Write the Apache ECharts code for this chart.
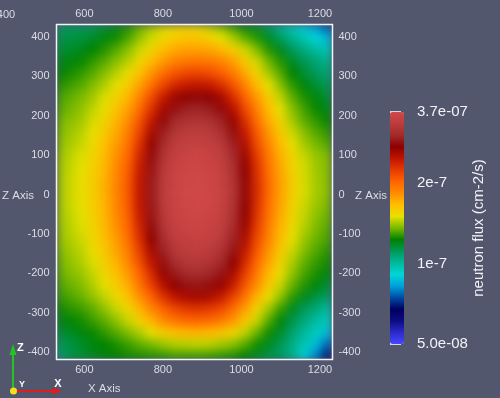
<!DOCTYPE html>
<html><head><meta charset="utf-8">
<script src="https://cdn.jsdelivr.net/npm/echarts@6/dist/echarts.min.js"></script>
<style>
html,body{margin:0;padding:0;background:#52576e;}
#wrap{position:relative;width:500px;height:398px;overflow:hidden;background:#52576e;}
#heat{position:absolute;left:57px;top:25px;width:275px;height:335px;filter:url(#smooth);}
#main{position:absolute;left:0;top:0;width:500px;height:398px;}
</style></head><body>
<svg width="0" height="0" style="position:absolute"><defs><filter id="smooth" x="0" y="0" width="1" height="1" color-interpolation-filters="sRGB"><feGaussianBlur stdDeviation="5" edgeMode="duplicate"/></filter></defs></svg>
<div id="wrap"><div id="heat"></div><div id="main"></div></div>
<script>
// ---- data (neutron flux, units of 1e-9 cm-2/s) ----
const xCenters = [530,560,590,620,650,680,710,740,770,800,830,860,890,920,950,980,1010,1040,1070,1100,1130,1160,1190,1220];
const zCenters = [430,400,370,340,310,280,250,220,190,160,130,100,70,40,10,-20,-50,-80,-110,-140,-170,-200,-230,-260,-290,-320,-350,-380,-410];
const fluxE9 = [
 [110,111,111,112,115,119,126,134,141,148,152,154,153,145,137,129,122,117,110,102,95,89,82,75],
 [113,114,115,117,121,125,131,139,147,155,161,164,163,157,150,142,133,127,118,110,103,97,91,86],
 [116,117,119,123,127,132,138,147,156,166,173,176,176,174,168,159,147,137,127,119,111,105,100,96],
 [119,121,124,128,132,138,144,155,167,179,188,193,194,192,187,176,161,147,135,127,118,112,107,103],
 [123,125,128,132,138,144,152,165,180,197,210,217,219,215,206,191,173,156,142,132,123,116,111,107],
 [126,129,132,137,143,150,160,176,196,218,236,244,247,243,231,210,187,167,150,138,128,122,116,112],
 [130,133,136,141,149,157,169,187,215,242,264,276,279,273,258,232,203,178,159,145,133,126,121,116],
 [132,135,139,145,152,163,176,199,229,260,285,296,299,293,280,250,216,188,166,150,138,130,124,120],
 [135,138,141,148,156,169,183,210,244,280,304,317,321,313,297,268,230,197,172,156,142,133,128,124],
 [137,140,144,151,161,173,190,220,258,294,323,334,337,332,314,284,243,207,180,161,147,138,132,128],
 [138,142,146,154,165,178,196,229,270,308,336,345,348,343,330,296,255,215,186,167,152,142,136,132],
 [140,144,149,156,167,182,201,237,281,321,344,355,358,353,339,307,265,224,192,171,156,146,140,137],
 [141,145,150,158,169,185,205,243,287,330,352,362,364,359,346,314,273,229,196,174,157,148,141,138],
 [141,146,151,159,170,186,208,246,291,333,355,365,368,363,350,321,277,232,198,176,159,148,142,138],
 [141,146,152,159,171,187,209,247,292,334,357,367,369,364,351,322,279,233,199,176,159,149,142,139],
 [141,146,151,159,170,186,208,246,291,333,355,365,368,363,350,321,277,232,197,175,158,147,141,137],
 [141,145,150,158,169,185,205,244,288,330,353,362,364,359,346,315,273,228,195,173,156,146,139,135],
 [140,144,149,156,168,182,202,238,282,322,346,357,359,354,341,308,266,224,191,170,154,144,137,133],
 [139,143,147,155,165,178,198,231,274,311,338,347,350,346,332,298,257,216,187,167,151,141,135,131],
 [137,141,145,152,162,175,191,223,261,298,328,338,341,335,319,288,246,209,181,162,147,138,132,128],
 [135,139,143,149,158,170,186,214,248,285,311,325,328,321,303,274,234,200,175,157,143,134,129,125],
 [133,137,140,146,155,165,179,203,234,269,292,305,308,301,287,258,222,191,168,152,139,131,126,121],
 [131,134,137,143,150,160,172,194,221,250,275,286,288,283,268,241,209,182,161,146,134,127,121,116],
 [128,131,134,139,145,154,164,182,203,228,247,258,260,255,242,219,193,169,152,139,128,119,114,109],
 [124,127,129,133,139,146,155,169,186,203,217,225,228,224,215,197,176,156,141,129,119,111,106,100],
 [120,122,125,129,133,139,146,157,170,184,194,200,201,199,191,179,162,146,132,122,113,106,100,95],
 [116,118,121,124,128,132,137,143,151,159,165,168,169,167,163,156,145,134,125,117,108,101,95,87],
 [110,114,117,121,123,126,129,133,136,140,143,144,145,144,141,138,132,125,118,112,104,97,87,77],
 [108,113,116,119,121,123,125,126,127,128,130,130,130,129,128,126,123,118,114,110,103,91,80,69]
];
const xRange = [529, 1232];
const zRange = [-419, 432];
const xTicks = [600, 800, 1000, 1200];
const zTicks = [-400, -300, -200, -100, 0, 100, 200, 300, 400];
const fluxMin = 5e-8, fluxMax = 3.7e-7;
const cbTickFlux = [5e-8, 7e-8, 8e-8, 9e-8, 1e-7, 2e-7, 3.7e-7];
const cbLabelFlux = [5e-8, 1e-7, 2e-7, 3.7e-7];
const cbLabelText = ['5.0e-08', '1e-7', '2e-7', '3.7e-07'];

// ---- styles ----
const CELL = 30;
const COLORS = ['#4646ff','#2a2ac8','#0c0c82','#00005f','#004ba5','#00a0dc','#00d7d7','#00b99b','#00985a','#008200','#78b900','#e6e100','#ffbe00','#ff8c00','#ff6400','#e63c00','#be1400','#8c0000','#a32a2a','#bc3c3c','#d24848'];
const FONT = '"Liberation Sans", Arial, sans-serif';
const TICKC = '#dcdce4';
const TEXTC = '#f2f2f6';

const LMIN = Math.log10(fluxMin), LMAX = Math.log10(fluxMax);
const heatData = [];
zCenters.forEach((z, i) => xCenters.forEach((x, j) => {
  const f = fluxE9[i][j] * 1e-9;
  heatData.push([x, z, f, Math.log10(f)]);
}));

function renderCell(params, api) {
  const x = api.value(0), z = api.value(1);
  const a = api.coord([x - CELL / 2, z + CELL / 2]);
  const b = api.coord([x + CELL / 2, z - CELL / 2]);
  const cs = params.coordSys;
  const shape = echarts.graphic.clipRectByRect(
    {x: a[0], y: a[1], width: b[0] - a[0] + 0.6, height: b[1] - a[1] + 0.6},
    {x: cs.x, y: cs.y, width: cs.width, height: cs.height});
  return shape && {type: 'rect', shape: shape, silent: true, style: {fill: api.visual('color')}};
}

const heat = echarts.init(document.getElementById('heat'));
heat.setOption({
  animation: false,
  grid: {left: 0, top: 0, right: 0, bottom: 0},
  xAxis: {type: 'value', min: xRange[0], max: xRange[1], show: false},
  yAxis: {type: 'value', min: zRange[0], max: zRange[1], show: false},
  visualMap: {show: false, type: 'continuous', dimension: 3, min: LMIN, max: LMAX, inRange: {color: COLORS}},
  series: [{type: 'custom', data: heatData, encode: {x: 0, y: 1}, renderItem: renderCell}]
});

const cbTickLog = cbTickFlux.map(v => Math.log10(v));
const cbLabelLog = cbLabelFlux.map(v => Math.log10(v));
function cbFormatter(v) {
  for (let i = 0; i < cbLabelLog.length; i++) if (Math.abs(v - cbLabelLog[i]) < 1e-6) return cbLabelText[i];
  return '';
}
const plain = v => String(v);
function xAx(pos) {
  return {gridIndex: 0, type: 'value', position: pos, min: xRange[0], max: xRange[1],
    axisLine: {show: false}, axisTick: {show: false}, splitLine: {show: false},
    axisLabel: {customValues: xTicks, formatter: plain, margin: 5, color: TICKC, fontSize: 11, fontFamily: FONT}};
}
function zAx(pos, m) {
  return {gridIndex: 0, type: 'value', position: pos, min: zRange[0], max: zRange[1],
    axisLine: {show: false}, axisTick: {show: false}, splitLine: {show: false},
    axisLabel: {customValues: zTicks, formatter: plain, margin: m, color: TICKC, fontSize: 11, fontFamily: FONT}};
}

const main = echarts.init(document.getElementById('main'));
main.setOption({
  animation: false,
  grid: [
    {left: 56.5, top: 24.5, width: 276, height: 335, show: true, borderColor: '#f4f4f8', borderWidth: 1.5, backgroundColor: 'transparent'},
    {left: 390, top: 112, width: 11, height: 232}
  ],
  xAxis: [xAx('bottom'), xAx('top'), {gridIndex: 1, type: 'value', show: false}],
  yAxis: [zAx('left', 7), zAx('right', 6), {
    gridIndex: 1, type: 'value', position: 'right', min: LMIN, max: LMAX,
    axisLine: {show: false}, splitLine: {show: false},
    axisTick: {show: true, customValues: cbTickLog, length: 11, lineStyle: {color: '#ffffff', width: 1.5}},
    axisLabel: {customValues: cbLabelLog, formatter: cbFormatter, margin: 16, color: TEXTC, fontSize: 15, fontFamily: FONT}
  }],
  visualMap: {type: 'continuous', min: LMIN, max: LMAX, dimension: 3, inRange: {color: COLORS},
    left: 390, top: 112, itemWidth: 14, itemHeight: 232, calculable: false, text: null, padding: 0, hoverLink: false},
  graphic: [
    {type: 'text', x: 479, y: 228, rotation: Math.PI / 2, style: {text: 'neutron flux (cm-2/s)', align: 'center', verticalAlign: 'middle', fill: TEXTC, font: '15px ' + FONT}},
    {type: 'text', x: 2, y: 196, style: {text: 'Z Axis', align: 'left', verticalAlign: 'middle', fill: TICKC, font: '11.5px ' + FONT}},
    {type: 'text', x: 355, y: 196, style: {text: 'Z Axis', align: 'left', verticalAlign: 'middle', fill: TICKC, font: '11.5px ' + FONT}},
    {type: 'text', x: 88, y: 389, style: {text: 'X Axis', align: 'left', verticalAlign: 'middle', fill: TICKC, font: '11.5px ' + FONT}},
    {type: 'text', x: 6, y: 14.5, style: {text: '400', align: 'center', verticalAlign: 'middle', fill: TICKC, font: '11px ' + FONT}},
    {type: 'line', shape: {x1: 13, y1: 392, x2: 13, y2: 352}, style: {stroke: '#22c322', lineWidth: 2}},
    {type: 'polygon', shape: {points: [[9.5, 355], [16.5, 355], [13, 344]]}, style: {fill: '#22c322'}},
    {type: 'line', shape: {x1: 13, y1: 391, x2: 54, y2: 391}, style: {stroke: '#e01c1c', lineWidth: 2}},
    {type: 'polygon', shape: {points: [[52, 387.5], [52, 394.5], [62, 391]]}, style: {fill: '#e01c1c'}},
    {type: 'circle', shape: {cx: 13.5, cy: 391, r: 3.5}, style: {fill: '#f0e020'}},
    {type: 'text', x: 17, y: 348, style: {text: 'Z', align: 'left', verticalAlign: 'middle', fill: '#ffffff', font: 'bold 11px ' + FONT}},
    {type: 'text', x: 58, y: 384, style: {text: 'X', align: 'center', verticalAlign: 'middle', fill: '#ffffff', font: 'bold 11px ' + FONT}},
    {type: 'text', x: 19, y: 385, style: {text: 'Y', align: 'left', verticalAlign: 'middle', fill: '#ffffff', font: 'bold 9px ' + FONT}}
  ],
  series: []
});
</script>
</body></html>
